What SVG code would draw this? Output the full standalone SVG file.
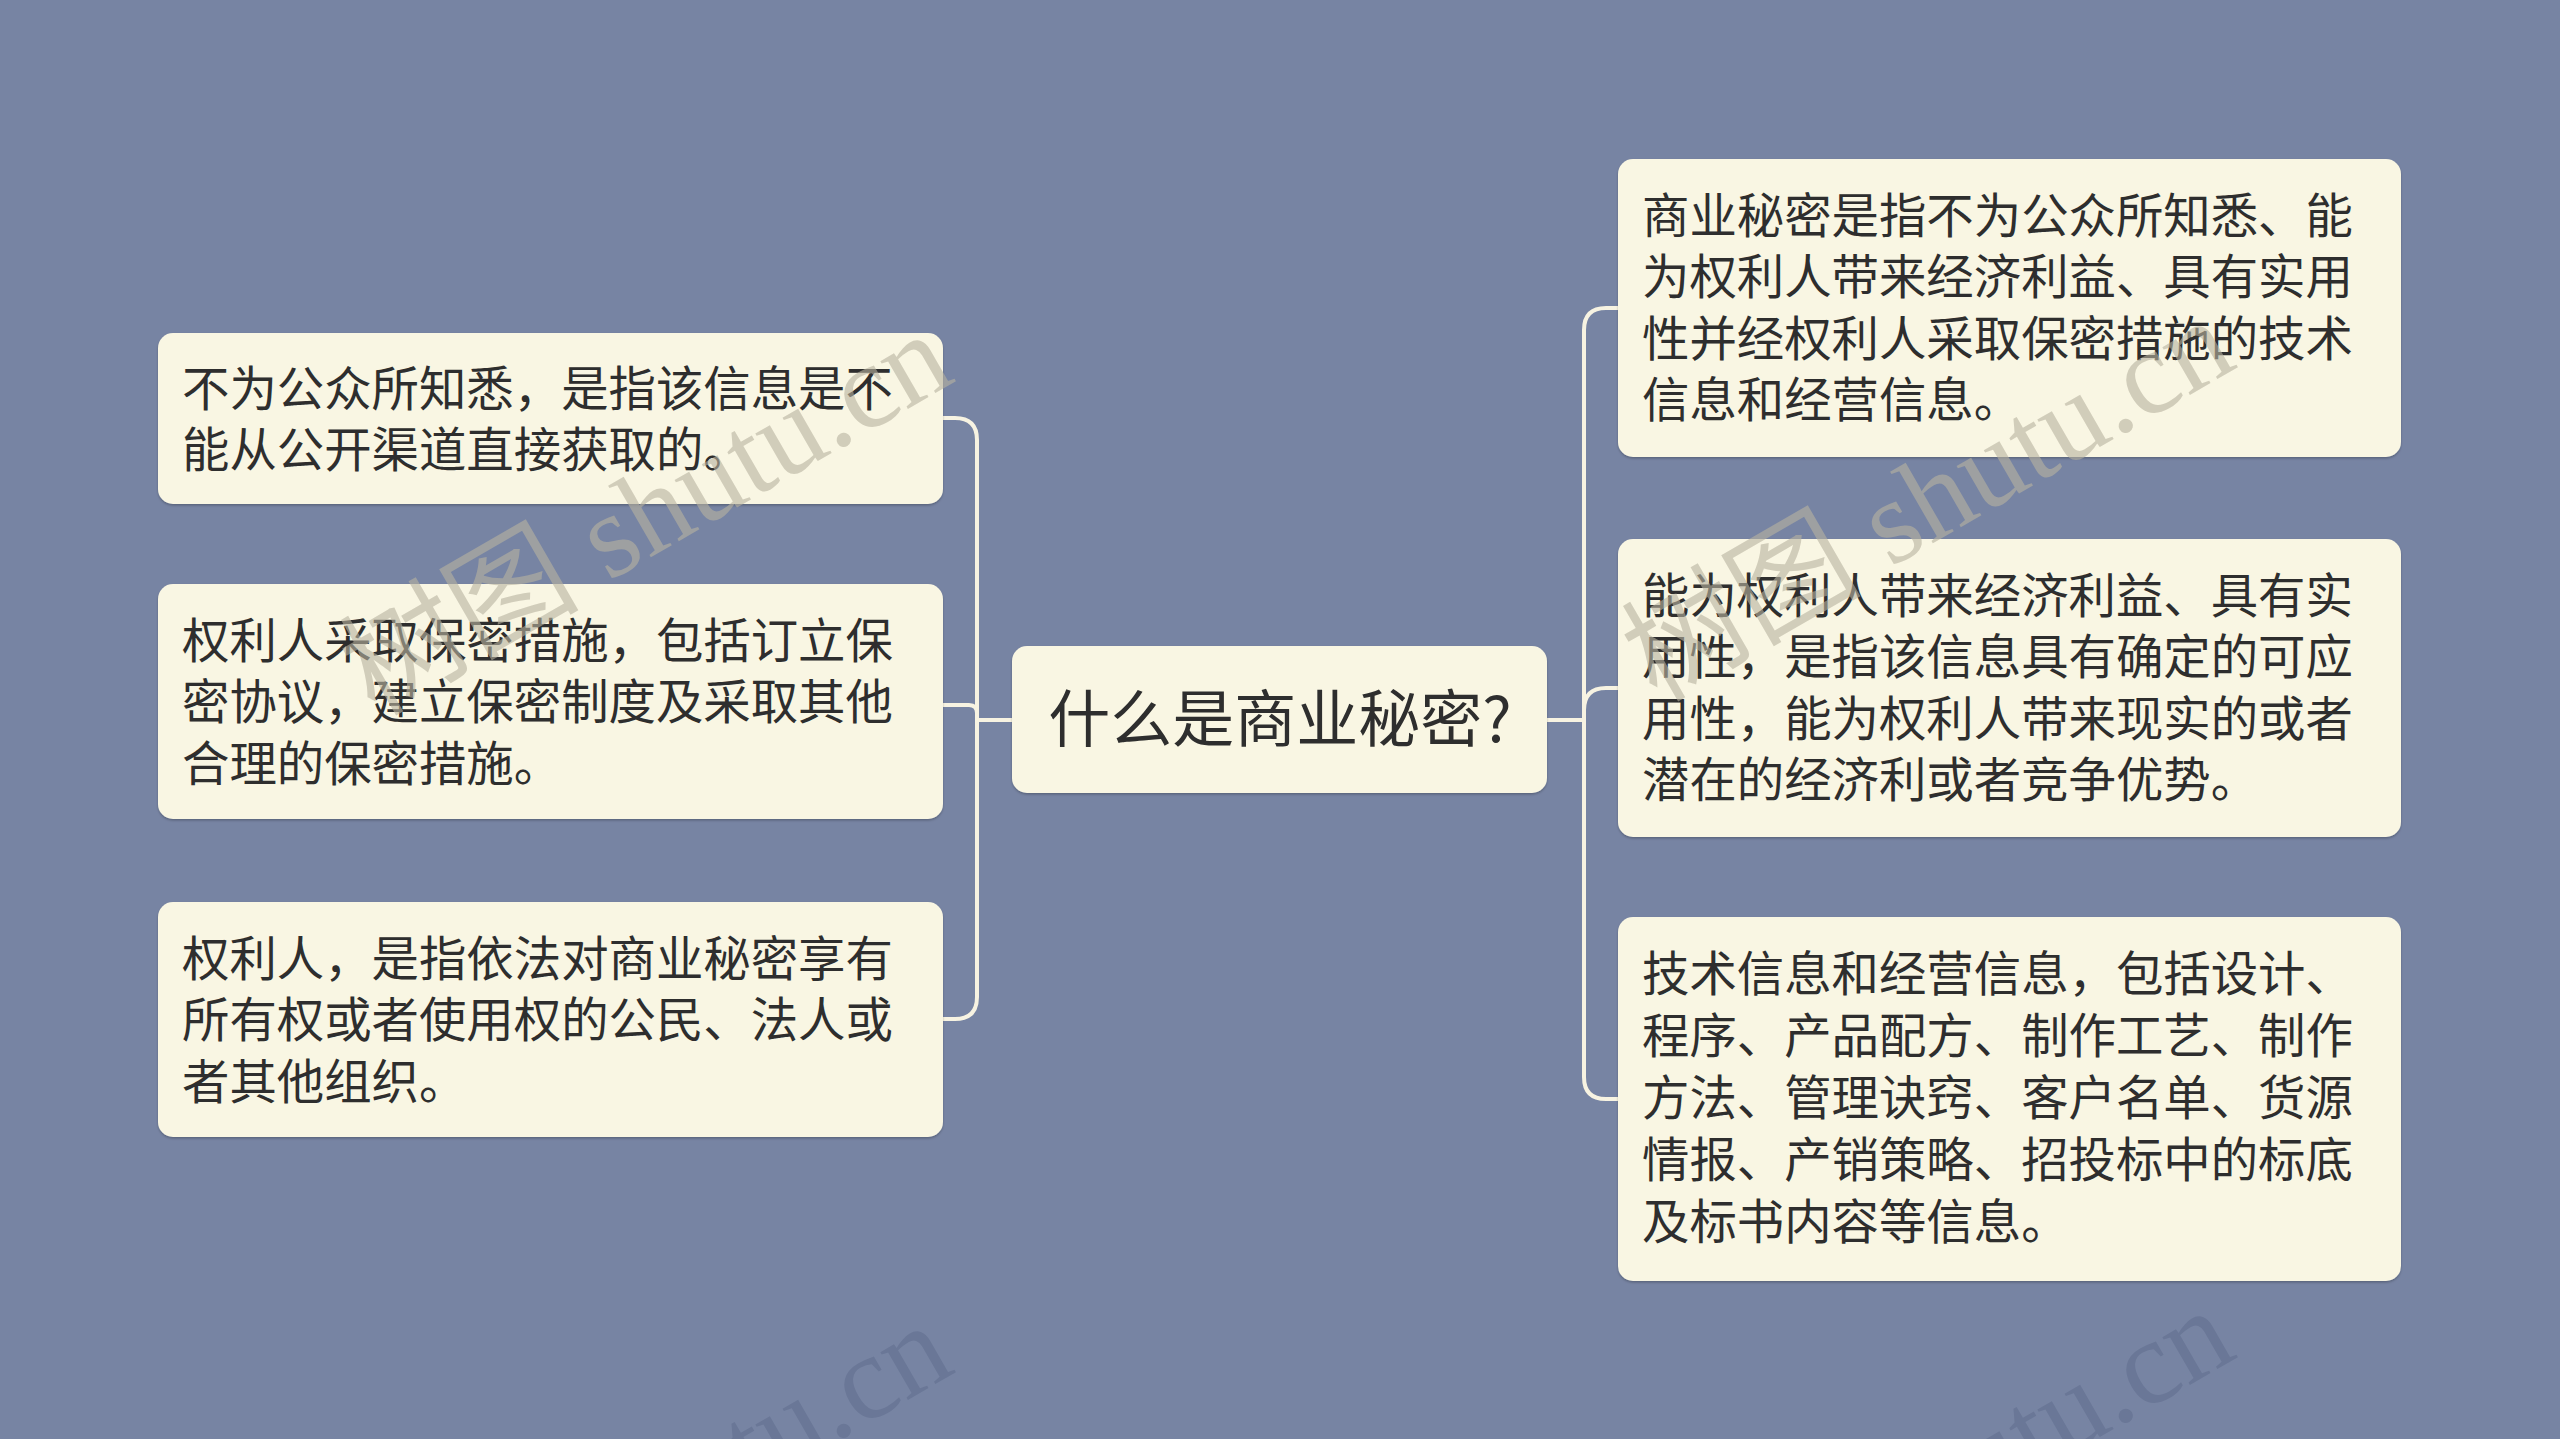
<svg xmlns="http://www.w3.org/2000/svg" width="2560" height="1439" viewBox="0 0 2560 1439">
<style>
.bg{fill:#7784a3}
.node{fill:#f9f6e3}
.t{font-family:"Noto Sans CJK SC","Noto Sans",sans-serif;font-size:47.4px;fill:#2e2e2e}
.ct{font-family:"Noto Sans CJK SC","Noto Sans",sans-serif;font-size:62px;fill:#2e2e2e}
.conn path{fill:none;stroke:#f7f3e2;stroke-width:4}
.wm{font-family:"Liberation Serif","Noto Sans CJK SC",serif;font-size:120px}
.wmTop{fill:#b8b3a0;opacity:0.6}
.wmBot{fill:#4d5a7c;opacity:0.3}
</style>
<defs>
<filter id="sh" x="-5%" y="-5%" width="110%" height="115%">
<feDropShadow dx="0" dy="1.5" stdDeviation="1" flood-color="#000" flood-opacity="0.25"/>
</filter>
</defs>
<rect class="bg" x="0" y="0" width="2560" height="1439"/>
<g id="watermark-bottom">
<text class="wm wmBot" transform="translate(646,1505) rotate(-30)" text-anchor="middle" y="40">树图 shutu.cn</text>
<text class="wm wmBot" transform="translate(1928,1490) rotate(-30)" text-anchor="middle" y="40">树图 shutu.cn</text>
</g>
<g id="connectors" class="conn">
<path d="M1012 720 H977 V440 Q977 418 955 418 H943"/>
<path d="M1012 720 H977 V713 Q977 705 969 705 H943"/>
<path d="M1012 720 H977 V997 Q977 1019 955 1019 H943"/>
<path d="M1547 720 H1584 V330 Q1584 308 1606 308 H1618"/>
<path d="M1547 720 H1584 V710 Q1584 688 1606 688 H1618"/>
<path d="M1547 720 H1584 V1077 Q1584 1099 1606 1099 H1618"/>
</g>
<g id="center">
<rect class="node" filter="url(#sh)" x="1012" y="646" width="535" height="147" rx="15"/>
<text class="ct" x="1280" y="742" text-anchor="middle">什么是商业秘密?</text>
</g>
<g id="left1">
<rect class="node" filter="url(#sh)" x="158" y="333" width="785" height="171" rx="15"/>
<text class="t" x="182" y="406">不为公众所知悉，是指该信息是不</text>
<text class="t" x="182" y="467">能从公开渠道直接获取的。</text>
</g>
<g id="left2">
<rect class="node" filter="url(#sh)" x="158" y="584" width="785" height="235" rx="15"/>
<text class="t" x="182" y="658">权利人采取保密措施，包括订立保</text>
<text class="t" x="182" y="719">密协议，建立保密制度及采取其他</text>
<text class="t" x="182" y="781">合理的保密措施。</text>
</g>
<g id="left3">
<rect class="node" filter="url(#sh)" x="158" y="902" width="785" height="235" rx="15"/>
<text class="t" x="182" y="976">权利人，是指依法对商业秘密享有</text>
<text class="t" x="182" y="1037">所有权或者使用权的公民、法人或</text>
<text class="t" x="182" y="1099">者其他组织。</text>
</g>
<g id="right1">
<rect class="node" filter="url(#sh)" x="1618" y="159" width="783" height="298" rx="15"/>
<text class="t" x="1642" y="233">商业秘密是指不为公众所知悉、能</text>
<text class="t" x="1642" y="294">为权利人带来经济利益、具有实用</text>
<text class="t" x="1642" y="356">性并经权利人采取保密措施的技术</text>
<text class="t" x="1642" y="417">信息和经营信息。</text>
</g>
<g id="right2">
<rect class="node" filter="url(#sh)" x="1618" y="539" width="783" height="298" rx="15"/>
<text class="t" x="1642" y="613">能为权利人带来经济利益、具有实</text>
<text class="t" x="1642" y="674">用性，是指该信息具有确定的可应</text>
<text class="t" x="1642" y="736">用性，能为权利人带来现实的或者</text>
<text class="t" x="1642" y="797">潜在的经济利或者竞争优势。</text>
</g>
<g id="right3">
<rect class="node" filter="url(#sh)" x="1618" y="917" width="783" height="364" rx="15"/>
<text class="t" x="1642" y="991">技术信息和经营信息，包括设计、</text>
<text class="t" x="1642" y="1053">程序、产品配方、制作工艺、制作</text>
<text class="t" x="1642" y="1115">方法、管理诀窍、客户名单、货源</text>
<text class="t" x="1642" y="1177">情报、产销策略、招投标中的标底</text>
<text class="t" x="1642" y="1239">及标书内容等信息。</text>
</g>
<g id="watermark-top">
<text class="wm wmTop" transform="translate(646,514) rotate(-30)" text-anchor="middle" y="40">树图 shutu.cn</text>
<text class="wm wmTop" transform="translate(1928,500) rotate(-30)" text-anchor="middle" y="40">树图 shutu.cn</text>
</g>
</svg>
